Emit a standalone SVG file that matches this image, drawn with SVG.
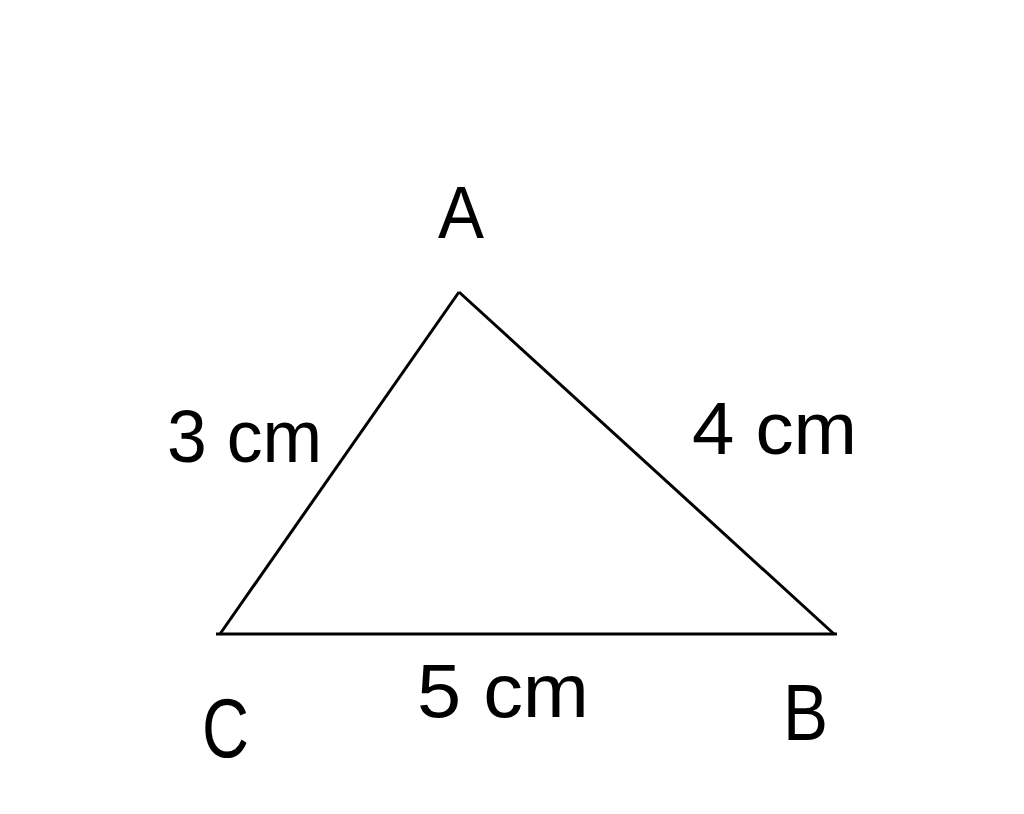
<svg xmlns="http://www.w3.org/2000/svg" width="1024" height="814" viewBox="0 0 1024 814">
<style>
.edge{stroke:#000;stroke-width:3;fill:none;stroke-linecap:butt}
.lbl{font-family:"Liberation Sans",Arial,sans-serif;fill:#000}
</style>
<rect width="1024" height="814" fill="#fff"/>
<g id="connectors">
<line class="edge" x1="459" y1="292" x2="220" y2="634"/>
<line class="edge" x1="459" y1="292" x2="834" y2="634"/>
<line class="edge" x1="216" y1="634" x2="837" y2="634"/>
</g>
<g id="node-A"><text class="lbl" x="438" y="238" font-size="74" textLength="46" lengthAdjust="spacingAndGlyphs">A</text></g>
<g id="node-B"><text class="lbl" x="783" y="740" font-size="80" textLength="45" lengthAdjust="spacingAndGlyphs">B</text></g>
<g id="node-C"><text class="lbl" x="202" y="757" font-size="84" textLength="47" lengthAdjust="spacingAndGlyphs">C</text></g>
<g id="label-AC"><text class="lbl" x="167" y="462" font-size="74" textLength="155" lengthAdjust="spacingAndGlyphs">3 cm</text></g>
<g id="label-AB"><text class="lbl" x="692" y="454" font-size="74" textLength="165" lengthAdjust="spacingAndGlyphs">4 cm</text></g>
<g id="label-CB"><text class="lbl" x="417" y="717" font-size="76" textLength="172" lengthAdjust="spacingAndGlyphs">5 cm</text></g>
</svg>
